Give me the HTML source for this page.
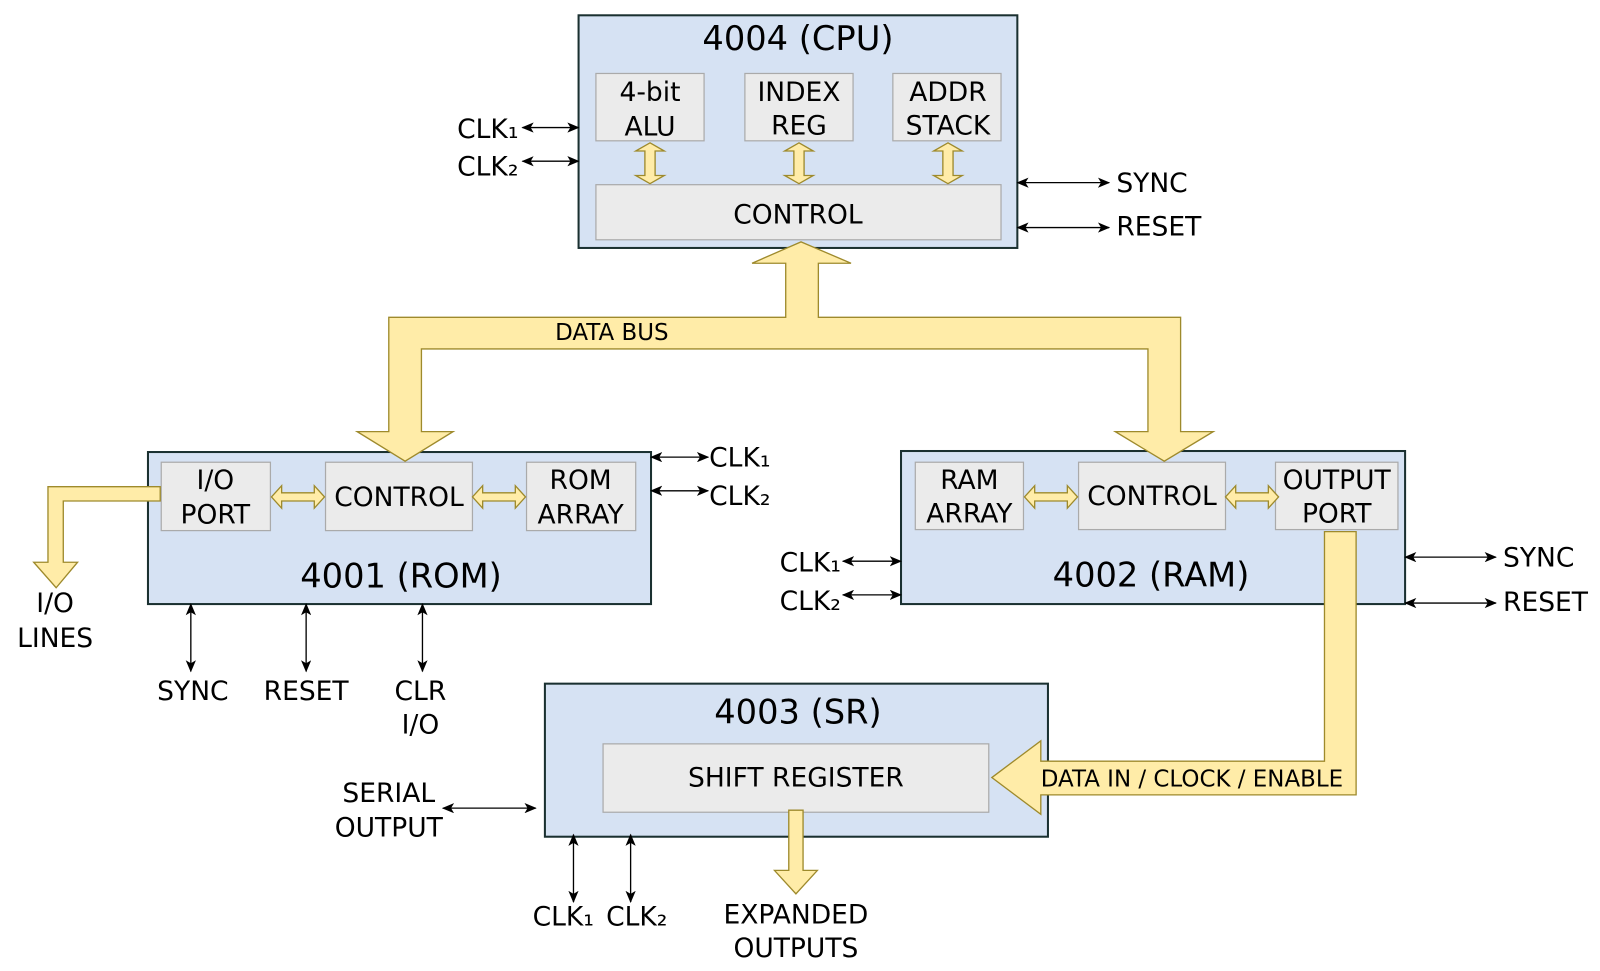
<!DOCTYPE html>
<html><head><meta charset="utf-8"><style>html,body{margin:0;padding:0;background:#fff;}svg{display:block}</style></head>
<body>
<svg width="1600" height="971" viewBox="0 0 1568 951.6" xmlns="http://www.w3.org/2000/svg" font-family="'DejaVu Sans','Liberation Sans',sans-serif">
<defs>
<marker id="a" viewBox="0 0 12 10" refX="11" refY="5" markerWidth="12" markerHeight="10" markerUnits="userSpaceOnUse" orient="auto-start-reverse">
<path d="M0,0 L12,5 L0,10 L3,5 Z" fill="#000"/></marker>
</defs>
<g stroke="#1a3030" stroke-width="2" fill="#d6e2f3">
<rect x="567" y="15" width="430" height="228"/>
<rect x="145" y="443" width="493" height="149"/>
<rect x="883" y="442" width="494" height="150"/>
<rect x="534" y="670" width="493" height="150"/>
</g>
<g fill="#ebebeb" stroke="#aaa" stroke-width="1.2">
<rect x="584" y="72" width="106" height="66"/><rect x="730" y="72" width="106" height="66"/><rect x="875" y="72" width="106" height="66"/>
<rect x="584" y="181" width="397" height="54"/>
<rect x="158" y="453" width="107" height="67"/><rect x="319" y="453" width="144" height="67"/><rect x="516" y="453" width="107" height="67"/>
<rect x="897" y="453" width="106" height="66"/><rect x="1057" y="453" width="144" height="66"/><rect x="1250" y="453" width="120" height="66"/>
<rect x="591" y="729" width="378" height="67"/>
</g>
<g fill="#ffeca8" stroke="#9e8a2c" stroke-width="1.3">
<polygon points="785,237 834,258 802,258 802,311 1157,311 1157,423 1189,423 1141,452 1093,423 1125,423 1125,342 413,342 413,423 444,423 397,452 350,423 381,423 381,311 770,311 770,258 737,258"/>
<polygon points="1298,521 1329,521 1329,779 1020,779 1020,798 972,762 1020,726 1020,746 1298,746"/>
<polygon points="157,477 157,491 62,491 62,551 76,551 55,576 33,551 47,551 47,477"/>
<polygon points="773,794 787,794 787,853 801,853 780,876 759,853 773,853"/>
<g id="v"><polygon points="637,140 651,148 642,148 642,172 651,172 637,180 623,172 632,172 632,148 623,148"/></g>
<use href="#v" x="146"/><use href="#v" x="292"/>
<g id="h"><polygon points="266,487 276,476 276,483 308,483 308,476 318,487 308,498 308,491 276,491 276,498"/></g>
<use href="#h" x="197"/><use href="#h" x="738"/><use href="#h" x="935"/>
</g>
<g stroke="#000" stroke-width="1.3" fill="none" marker-start="url(#a)" marker-end="url(#a)">
<line x1="512" y1="125" x2="567" y2="125"/><line x1="512" y1="158" x2="567" y2="158"/>
<line x1="997" y1="179" x2="1087" y2="179"/><line x1="997" y1="223" x2="1087" y2="223"/>
<line x1="638" y1="448" x2="694" y2="448"/><line x1="638" y1="481" x2="694" y2="481"/>
<line x1="187" y1="592" x2="187" y2="658"/><line x1="300" y1="592" x2="300" y2="658"/><line x1="414" y1="592" x2="414" y2="658"/>
<line x1="826" y1="550" x2="883" y2="550"/><line x1="826" y1="583" x2="883" y2="583"/>
<line x1="1377" y1="546" x2="1466" y2="546"/><line x1="1377" y1="591" x2="1466" y2="591"/>
<line x1="434" y1="792" x2="525" y2="792"/>
<line x1="562" y1="818" x2="562" y2="884"/><line x1="618" y1="818" x2="618" y2="884"/>
</g>
<g fill="#000" font-size="33" text-anchor="middle">
<text x="782" y="49">4004 (CPU)</text><text x="393" y="576">4001 (ROM)</text><text x="1128" y="575">4002 (RAM)</text><text x="782" y="709">4003 (SR)</text>
</g>
<g fill="#000" font-size="26" text-anchor="middle">
<text x="637" y="99">4-bit</text><text x="637" y="133">ALU</text>
<text x="783" y="99">INDEX</text><text x="783" y="132">REG</text>
<text x="929" y="99">ADDR</text><text x="929" y="132">STACK</text>
<text x="782" y="219">CONTROL</text>
<text x="211" y="479">I/O</text><text x="211" y="513">PORT</text>
<text x="391" y="496">CONTROL</text>
<text x="569" y="479">ROM</text><text x="569" y="513">ARRAY</text>
<text x="950" y="479">RAM</text><text x="950" y="512">ARRAY</text>
<text x="1129" y="495">CONTROL</text>
<text x="1310" y="479">OUTPUT</text><text x="1310" y="512">PORT</text>
<text x="780" y="771">SHIFT REGISTER</text>
<text x="54" y="600">I/O</text><text x="54" y="634">LINES</text>
<text x="189" y="686">SYNC</text><text x="300" y="686">RESET</text>
<text x="412" y="686">CLR</text><text x="412" y="719">I/O</text>
<text x="381" y="786">SERIAL</text><text x="381" y="820">OUTPUT</text>
<text x="780" y="905">EXPANDED</text><text x="780" y="938">OUTPUTS</text>
<text x="552" y="907">CLK₁</text><text x="624" y="907">CLK₂</text>
</g>
<g fill="#000" font-size="26">
<text x="448" y="135">CLK₁</text><text x="448" y="172">CLK₂</text>
<text x="1094" y="188">SYNC</text><text x="1094" y="231">RESET</text>
<text x="695" y="457">CLK₁</text><text x="695" y="495">CLK₂</text>
<text x="764" y="560">CLK₁</text><text x="764" y="598">CLK₂</text>
<text x="1473" y="555">SYNC</text><text x="1473" y="599">RESET</text>
</g>
<g fill="#000" font-size="22.5">
<text x="544" y="333">DATA BUS</text>
<text x="1020" y="771">DATA IN / CLOCK / ENABLE</text>
</g>
</svg>
</body></html>
